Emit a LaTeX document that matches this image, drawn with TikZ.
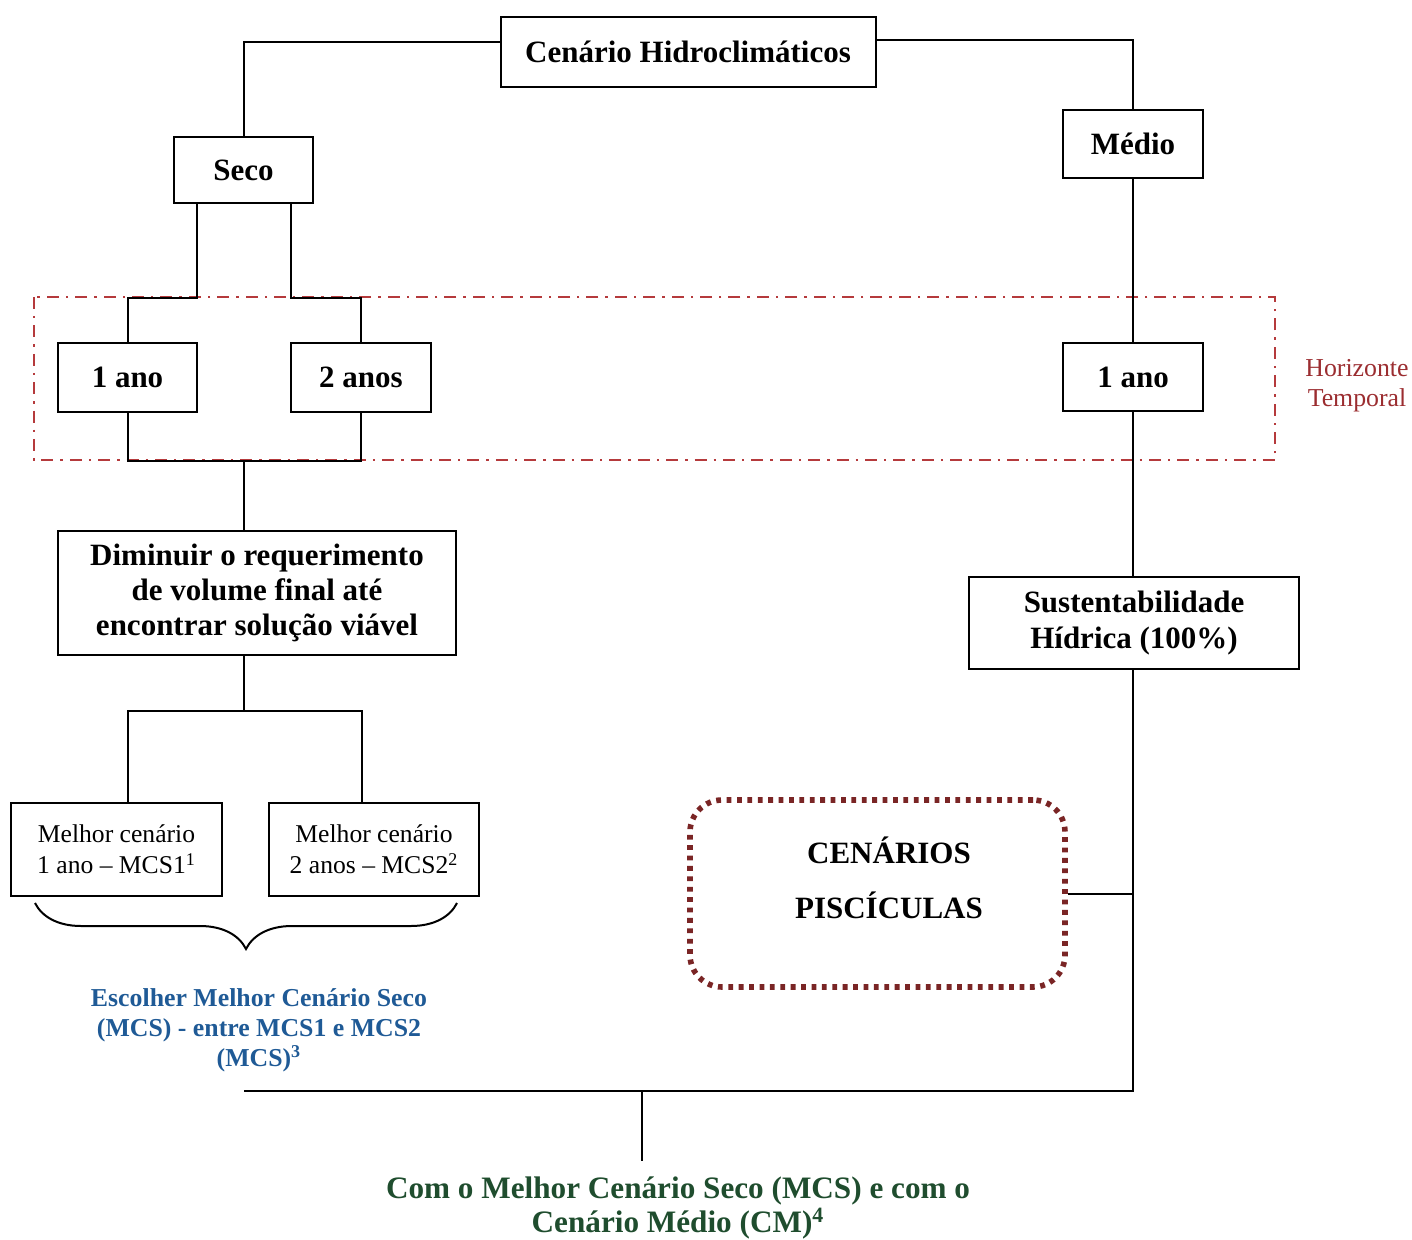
\documentclass[tikz,border=0pt]{standalone}
\usepackage{fontspec}
\setmainfont{Liberation Serif}
\usetikzlibrary{decorations.pathreplacing,calc}
\definecolor{dashred}{HTML}{B53A3C}
\definecolor{horred}{HTML}{9B2D30}
\definecolor{dotred}{HTML}{7A2525}
\definecolor{myblue}{HTML}{1F5A96}
\definecolor{mygreen}{HTML}{1F4D2E}
\begin{document}
\begin{tikzpicture}[x=0.5pt,y=-0.5pt,
  conn/.style={draw, line width=1pt},
  box/.style={draw, line width=1pt, inner sep=0pt, align=center, font=\bfseries\fontsize{15.5}{17.5}\selectfont},
  smallbox/.style={draw, line width=1pt, inner sep=0pt, align=center, font=\fontsize{12.8}{15.5}\selectfont},
  ]
\useasboundingbox (0,0) rectangle (1412,1240);
% horizon frame
\draw[dashred, line width=1.4pt, dash pattern=on 6pt off 3.5pt on 1.2pt off 3.5pt] (34,297) rectangle (1275,460);
\node[horred, align=center, font=\fontsize{12.9}{15}\selectfont] (hor) at (1357,386) {Horizonte\\Temporal};

\node[box, minimum width=187.5pt, minimum height=35pt] (top) at (688,52) {Cenário Hidroclimáticos};
\node[box, minimum width=69.5pt, minimum height=33pt] (seco) at (243.5,170) {Seco};
\node[box, minimum width=70pt, minimum height=34pt] (medio) at (1133,144) {Médio};
\node[box, fill=white, minimum width=69.5pt, minimum height=34.5pt] (ano1) at (127.5,377.5) {1 ano};
\node[box, fill=white, minimum width=70pt, minimum height=34.5pt] (anos2) at (361,377.5) {2 anos};
\node[box, fill=white, minimum width=70pt, minimum height=34pt] (ano1r) at (1133,377) {1 ano};
\node[box, minimum width=199pt, minimum height=62pt] (dim) at (257,593) {Diminuir o requerimento\\de volume final até\\encontrar solução viável};
\node[box, minimum width=165pt, minimum height=46pt, font=\bfseries\fontsize{15.5}{18}\selectfont] (sust) at (1134,623) {Sustentabilidade\\Hídrica (100\%)};
\node[smallbox, minimum width=105.5pt, minimum height=46.5pt] (mel1) at (116.5,849.5) {Melhor cenário\\1 ano -- MCS1\textsuperscript{1}};
\node[smallbox, minimum width=105pt, minimum height=46.5pt] (mel2) at (374,849.5) {Melhor cenário\\2 anos -- MCS2\textsuperscript{2}};
\node[draw=dotred, line width=2.8pt, dash pattern=on 2.4pt off 2.8pt, rounded corners=16pt, minimum width=187.5pt, minimum height=93.5pt, inner sep=0pt] (pisc) at (877.5,893.5) {};
\node[align=center, font=\bfseries\fontsize{15.5}{27.5}\selectfont] (pisctext) at (889,878) {CENÁRIOS\\PISCÍCULAS};
\node[myblue, align=center, font=\bfseries\fontsize{12.9}{15}\selectfont] (esc) at (259,1030) {Escolher Melhor Cenário Seco\\(MCS) - entre MCS1 e MCS2\\(MCS)\textsuperscript{3}};
\node[mygreen, align=center, inner sep=0pt, font=\bfseries\fontsize{15.6}{17}\selectfont] (com) at (678,1208) {Com o Melhor Cenário Seco (MCS) e com o\\Cenário Médio (CM)\textsuperscript{4}};

% connectors
\draw[conn] ([yshift=5pt]top.west) -| (seco.north);
\draw[conn] ([yshift=6pt]top.east) -| (medio.north);
\draw[conn] ([xshift=-23.5pt]seco.south) -- ++(0,94) -| (ano1.north);
\draw[conn] ([xshift=23.5pt]seco.south) -- ++(0,94) -| (anos2.north);
\draw[conn] (ano1.south) -- ++(0,48) coordinate (j0) -| (anos2.south);
\coordinate (j1) at ($(j0)!0.5!(j0 -| anos2.south)$);
\draw[conn] (j1) -- (j1 |- dim.north);
\coordinate (j2) at ($(j1 |- dim.south)+(0,55)$);
\draw[conn] (j1 |- dim.south) -- (j2);
\draw[conn] ([xshift=5.75pt]mel1.north) |- (j2) -| ([xshift=-6pt]mel2.north);
\draw[conn] (medio.south) -- (ano1r.north);
\draw[conn] (ano1r.south) -- (ano1r.south |- sust.north);
\coordinate (bl) at ($(j1)+(0,630)$);
\draw[conn] (ano1r.south |- sust.south) |- (bl);
\draw[conn] (pisc.east) -- (pisc.east -| ano1r.south);
\coordinate (bm) at ($(bl)!0.448!(bl -| ano1r.south)$);
\draw[conn] (bm) -- ++(0,70);
% brace
\draw[line width=1pt, decorate, decoration={brace, mirror, amplitude=23pt}] (35,903) -- (457,903);
\end{tikzpicture}
\end{document}
